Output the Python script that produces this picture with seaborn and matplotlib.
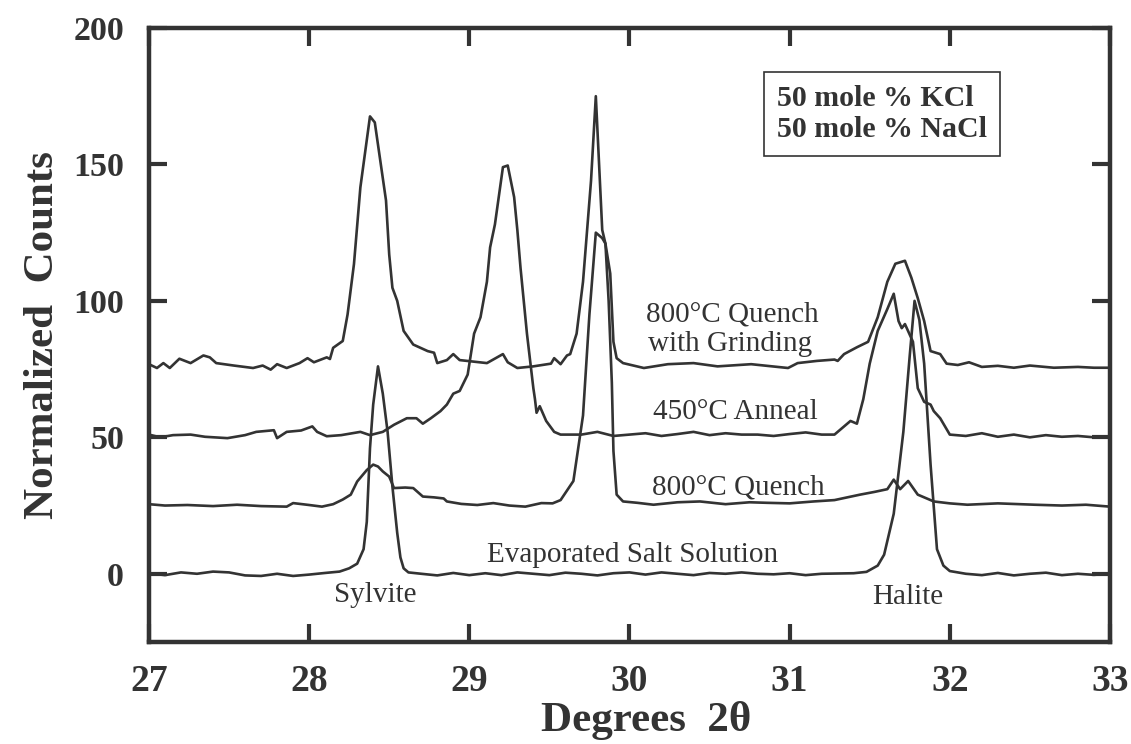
import matplotlib
matplotlib.use("Agg")
import matplotlib.pyplot as plt
import seaborn as sns

# X-ray diffraction patterns, 50 mole % KCl / 50 mole % NaCl, offset curves
evap_theta = [
    27.0, 27.1, 27.2, 27.3, 27.4, 27.5, 27.6, 27.7, 27.8, 27.9,
    28.0, 28.1, 28.19, 28.25, 28.3, 28.34, 28.36, 28.38, 28.4, 28.43,
    28.46, 28.49, 28.52, 28.55, 28.57, 28.59, 28.62, 28.7, 28.8, 28.9,
    29.0, 29.1, 29.2, 29.3, 29.4, 29.5, 29.6, 29.7, 29.8, 29.9,
    30.0, 30.1, 30.2, 30.3, 30.4, 30.5, 30.6, 30.7, 30.8, 30.9,
    31.0, 31.1, 31.2, 31.3, 31.4, 31.48, 31.55, 31.59, 31.65, 31.71,
    31.75, 31.78, 31.81, 31.84, 31.88, 31.92, 31.96, 32.0, 32.1, 32.2,
    32.3, 32.4, 32.5, 32.6, 32.7, 32.8, 32.9, 33.0]
evap_counts = [
    0.2, -0.5, 0.5, 0.0, 0.8, 0.5, -0.6, -0.8, 0.0, -0.8,
    -0.3, 0.3, 0.8, 2.0, 3.7, 9.0, 19, 46, 62, 76,
    66, 52, 32, 15, 6, 2, 0.5, 0.0, -0.6, 0.3,
    -0.5, 0.2, -0.5, 0.5, 0.0, -0.5, 0.4, 0.0, -0.6, 0.2,
    0.5, -0.3, 0.5, 0.0, -0.5, 0.3, 0.0, 0.5, 0.0, -0.2,
    0.2, -0.5, 0.0, 0.1, 0.2, 0.7, 3.0, 7.0, 22, 52,
    80, 100, 93, 77, 40, 9, 3, 1.0, 0.0, -0.5,
    0.3, -0.6, 0.0, 0.4, -0.5, 0.0, -0.4, 0.0]

quench_theta = [
    27.0, 27.1, 27.24, 27.4, 27.55, 27.7, 27.86, 27.9, 28.0, 28.08,
    28.15, 28.21, 28.26, 28.3, 28.36, 28.4, 28.43, 28.46, 28.5, 28.53,
    28.6, 28.65, 28.71, 28.78, 28.84, 28.86, 28.95, 29.05, 29.15, 29.25,
    29.35, 29.45, 29.52, 29.57, 29.65, 29.71, 29.75, 29.79, 29.83, 29.85,
    29.87, 29.89, 29.9, 29.92, 29.96, 30.05, 30.15, 30.3, 30.44, 30.6,
    30.75, 30.86, 31.0, 31.15, 31.28, 31.44, 31.53, 31.61, 31.65, 31.69,
    31.74, 31.8, 31.9, 32.0, 32.11, 32.3, 32.53, 32.7, 32.85, 33.0]
quench_counts = [
    25.5, 25.0, 25.2, 24.8, 25.3, 24.8, 24.6, 25.9, 25.2, 24.6,
    25.5, 27.2, 29.0, 33.8, 38.0, 40.0, 39.3, 37.5, 35.6, 31.4,
    31.6, 31.4, 28.3, 28.0, 27.6, 26.5, 25.6, 25.2, 25.9, 25.0,
    24.6, 25.9, 25.8, 27.0, 34.0, 58.0, 95.0, 125.0, 123.0, 121.0,
    100.0, 70.0, 45.0, 29.0, 26.5, 26.0, 25.3, 26.2, 26.5, 25.5,
    26.2, 26.0, 25.8, 26.5, 27.0, 29.0, 30.0, 31.0, 34.5, 31.0,
    34.0, 29.0, 26.5, 25.8, 25.3, 25.8, 25.3, 25.0, 25.3, 24.6]

anneal_theta = [
    27.0, 27.07, 27.15, 27.26, 27.35, 27.49, 27.6, 27.67, 27.78, 27.8,
    27.86, 27.95, 28.02, 28.05, 28.11, 28.2, 28.32, 28.38, 28.46, 28.53,
    28.61, 28.67, 28.71, 28.76, 28.82, 28.86, 28.9, 28.94, 28.99, 29.03,
    29.07, 29.11, 29.13, 29.16, 29.21, 29.24, 29.28, 29.3, 29.32, 29.36,
    29.4, 29.41, 29.42, 29.44, 29.48, 29.53, 29.57, 29.7, 29.8, 29.9,
    30.0, 30.1, 30.2, 30.3, 30.4, 30.5, 30.6, 30.7, 30.8, 30.9,
    31.0, 31.1, 31.2, 31.28, 31.32, 31.38, 31.42, 31.46, 31.5, 31.55,
    31.61, 31.65, 31.68, 31.7, 31.72, 31.77, 31.8, 31.84, 31.88, 31.9,
    31.94, 31.96, 32.0, 32.1, 32.2, 32.3, 32.4, 32.5, 32.6, 32.7,
    32.8, 32.9, 33.0]
anneal_counts = [
    51.0, 50.0, 50.8, 51.0, 50.2, 49.7, 50.8, 52.0, 52.6, 49.7,
    52.0, 52.5, 54.0, 52.0, 50.4, 50.8, 52.0, 50.8, 52.0, 54.6,
    57.0, 57.0, 55.0, 57.0, 59.6, 62.0, 66.0, 67.0, 73.0, 88.0,
    94.0, 107.0, 119.6, 128.0, 149.0, 149.6, 138.0, 126.0, 112.0, 88.0,
    68.0, 64.0, 59.0, 61.4, 56.0, 52.0, 51.0, 51.0, 52.0, 50.5,
    51.0, 51.5, 50.5, 51.2, 52.0, 50.8, 51.5, 51.0, 51.0, 50.5,
    51.2, 51.8, 51.0, 51.0, 53.0, 56.0, 55.0, 64.0, 77.0, 89.0,
    97.0, 102.6, 92.6, 90.0, 91.5, 85.0, 68.0, 63.0, 62.0, 59.6,
    57.0, 55.0, 51.0, 50.5, 51.5, 50.2, 51.0, 50.0, 50.8, 50.2,
    50.5, 50.0, 50.2]

grind_theta = [
    27.0, 27.05, 27.09, 27.13, 27.19, 27.26, 27.34, 27.38, 27.42, 27.53,
    27.65, 27.71, 27.76, 27.8, 27.86, 27.94, 27.99, 28.03, 28.11, 28.13,
    28.15, 28.21, 28.24, 28.28, 28.32, 28.38, 28.41, 28.48, 28.5, 28.52,
    28.55, 28.59, 28.65, 28.74, 28.78, 28.8, 28.86, 28.9, 28.94, 29.11,
    29.21, 29.24, 29.3, 29.4, 29.51, 29.53, 29.57, 29.61, 29.63, 29.67,
    29.71, 29.76, 29.79, 29.83, 29.85, 29.88, 29.9, 29.92, 29.96, 30.09,
    30.24, 30.4, 30.55, 30.76, 30.99, 31.05, 31.17, 31.28, 31.3, 31.34,
    31.42, 31.49, 31.55, 31.61, 31.66, 31.72, 31.76, 31.8, 31.84, 31.88,
    31.94, 31.98, 32.05, 32.12, 32.2, 32.3, 32.4, 32.5, 32.65, 32.8,
    32.9, 33.0]
grind_counts = [
    76.8, 75.4, 77.2, 75.4, 78.8, 77.2, 80.0, 79.3, 77.2, 76.3,
    75.4, 76.3, 74.8, 76.8, 75.4, 77.2, 79.0, 77.5, 79.3, 78.7,
    82.8, 85.3, 95.0, 113.5, 141.6, 167.6, 165.4, 136.8, 117.0, 104.8,
    100.0, 89.0, 84.0, 81.6, 81.0, 77.2, 78.3, 80.5, 78.3, 77.2,
    80.5, 77.5, 75.4, 76.0, 77.0, 79.0, 76.8, 80.0, 80.5, 88.0,
    107.0, 144.0, 175.0, 126.0, 121.0, 110.0, 85.0, 79.0, 77.2, 75.4,
    76.8, 77.2, 76.0, 76.8, 75.4, 77.2, 78.0, 78.5, 78.0, 80.5,
    83.0, 85.0, 94.0, 107.0, 113.6, 114.7, 108.5, 101.0, 92.6, 81.6,
    80.5, 77.0, 76.5, 77.5, 75.8, 76.2, 75.5, 76.3, 75.5, 75.8,
    75.5, 75.5]

x_ticks = [27, 28, 29, 30, 31, 32, 33]
y_ticks = [0, 50, 100, 150, 200]

INK = "#333333"

sns.set_style("ticks")
plt.rcParams["font.family"] = ["Liberation Serif", "DejaVu Serif"]

fig = plt.figure(figsize=(11.31, 7.44), dpi=100)
ax = fig.add_axes([0.1317, 0.1371, 0.8497, 0.8253])

for th, ct in [(evap_theta, evap_counts), (quench_theta, quench_counts),
               (anneal_theta, anneal_counts), (grind_theta, grind_counts)]:
    sns.lineplot(x=th, y=ct, ax=ax, color=INK, linewidth=1.9,
                 sort=False, estimator=None)

ax.set_xlim(27, 33)
ax.set_ylim(-25, 200)
ax.set_xticks(x_ticks)
ax.set_yticks(y_ticks)
ax.tick_params(direction="in", length=13, width=3, top=True, right=True,
               color=INK, labelcolor=INK)
ax.tick_params(axis="x", labelsize=27, pad=16)
ax.tick_params(axis="y", labelsize=24.5, pad=18)
for lbl in ax.get_xticklabels() + ax.get_yticklabels():
    lbl.set_fontweight("bold")
for s in ax.spines.values():
    s.set_linewidth(3.2)
    s.set_color(INK)

ax.set_xlabel("Degrees  2θ", fontsize=31, fontweight="bold", color=INK)
ax.xaxis.set_label_coords(0.517, -0.145)
ax.xaxis.label.set_va("baseline")
ax.set_ylabel("Normalized  Counts", fontsize=31, fontweight="bold", color=INK, labelpad=8)

# curve labels
lab = dict(fontsize=21, color=INK, ha="center", va="baseline")
ax.text(30.64, 92.3, "800°C Quench", **lab)
ax.text(30.63, 81.6, "with Grinding", **lab)
ax.text(30.66, 56.6, "450°C Anneal", **lab)
ax.text(30.68, 29.0, "800°C Quench", **lab)
ax.text(30.02, 4.4, "Evaporated Salt Solution", **lab)
ax.text(28.41, -10.5, "Sylvite", **lab)
ax.text(31.74, -11.0, "Halite", **lab)

ax.text(0.6535, 0.86, "50 mole % KCl\n50 mole % NaCl", transform=ax.transAxes,
        fontsize=21.5, fontweight="bold", color=INK, ha="left", va="center",
        linespacing=1.15,
        bbox=dict(boxstyle="square,pad=0.45", fc="white", ec=INK, lw=1.2))

fig.savefig("out.png", dpi=100)
